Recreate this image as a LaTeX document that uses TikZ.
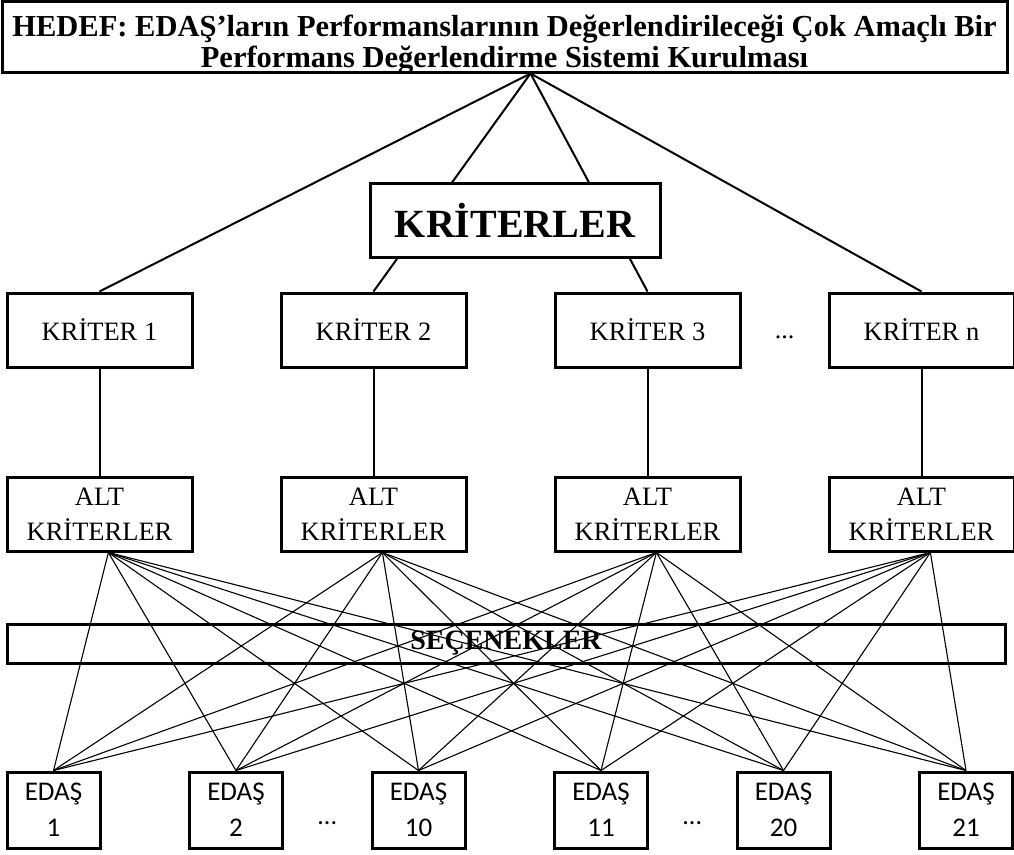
\documentclass[tikz,border=0pt]{standalone}
\usepackage{fontspec}
\setmainfont{Liberation Serif}
\newfontfamily\calibri{Carlito}
\usetikzlibrary{positioning,calc}
\tikzset{
  kutu/.style={
    draw,
    rectangle,
    line width=3pt,
    align=center,
    inner sep=0pt
  },
  hedefkutu/.style={
    kutu,
    minimum width=1005pt,
    minimum height=71pt,
    text height=66pt,
    text depth=5pt,
    font=\fontsize{30.5}{31}\selectfont\bfseries
  },
  kriter/.style={
    kutu,
    minimum width=185pt,
    minimum height=74pt,
    font=\fontsize{26.5}{35}\selectfont
  },
  edas/.style={
    kutu,
    minimum width=93pt,
    minimum height=76pt,
    font=\calibri\fontsize{27}{36}\selectfont
  },
  hat/.style={
    line width=2pt
  },
  ince/.style={
    line width=1.1pt
  }
}

\begin{document}
\begin{tikzpicture}[x=1pt, y=-1pt, node distance=274pt]
  \useasboundingbox (0,0) rectangle (1014,854);

  % Hedef
  \node[hedefkutu] (hedef) at (504.5,36.5) {HEDEF: EDAŞ’ların Performanslarının Değerlendirileceği Çok Amaçlı Bir\\Performans Değerlendirme Sistemi Kurulması};
  \coordinate (tepe) at ($(hedef.south)+(26,0)$);

  % Kriterler
  \node[kriter] (k1) at (99.5,330) {KRİTER 1};
  \node[kriter, right of=k1] (k2) {KRİTER 2};
  \node[kriter, right of=k2] (k3) {KRİTER 3};
  \node[kriter, right of=k3] (k4) {KRİTER n};
  \node[font=\fontsize{26}{30}\selectfont, yshift=-7pt] (kdots) at ($(k3)!0.5!(k4)$) {...};

  % Alt kriterler
  \node[kriter] (ak1) at (99.5,514) {ALT\\KRİTERLER};
  \node[kriter, right of=ak1] (ak2) {ALT\\KRİTERLER};
  \node[kriter, right of=ak2] (ak3) {ALT\\KRİTERLER};
  \node[kriter, right of=ak3] (ak4) {ALT\\KRİTERLER};

  % Secenekler
  \node[kutu, minimum width=998pt, minimum height=39pt, font=\fontsize{28}{30}\selectfont\bfseries] (secenek) at (506,643.5) {SEÇENEKLER};

  % EDAS kutulari
  \node[edas] (e1) at (53.5,810) {EDAŞ\\1};
  \node[edas, node distance=182.5pt, right of=e1] (e2) {EDAŞ\\2};
  \node[edas, node distance=182.5pt, right of=e2] (e3) {EDAŞ\\10};
  \node[edas, node distance=182.5pt, right of=e3] (e4) {EDAŞ\\11};
  \node[edas, node distance=182.5pt, right of=e4] (e5) {EDAŞ\\20};
  \node[edas, node distance=182.5pt, right of=e5] (e6) {EDAŞ\\21};
  \node[font=\calibri\fontsize{26}{30}\selectfont, yshift=-13pt] (edots1) at ($(e2)!0.5!(e3)$) {...};
  \node[font=\calibri\fontsize{26}{30}\selectfont, yshift=-13pt] (edots2) at ($(e4)!0.5!(e5)$) {...};

  % Hedeften kriterlere
  \foreach \k in {1,...,4}
    \draw[hat] (tepe) -- (k\k.north);
  \foreach \k in {1,...,4}
    \draw[hat] (k\k.south) -- (ak\k.north);

  % Alt kriterlerden EDAS'lara
  \foreach \a in {1,...,4}
    \foreach \e in {1,...,6}
      \draw[ince] (ak\a.-77) -- (e\e.north);

  \node[kutu, fill=white, minimum width=290pt, minimum height=74pt, font=\fontsize{40}{44}\selectfont\bfseries] (kriterler) at (515,220) {KRİTERLER};
\end{tikzpicture}
\end{document}
